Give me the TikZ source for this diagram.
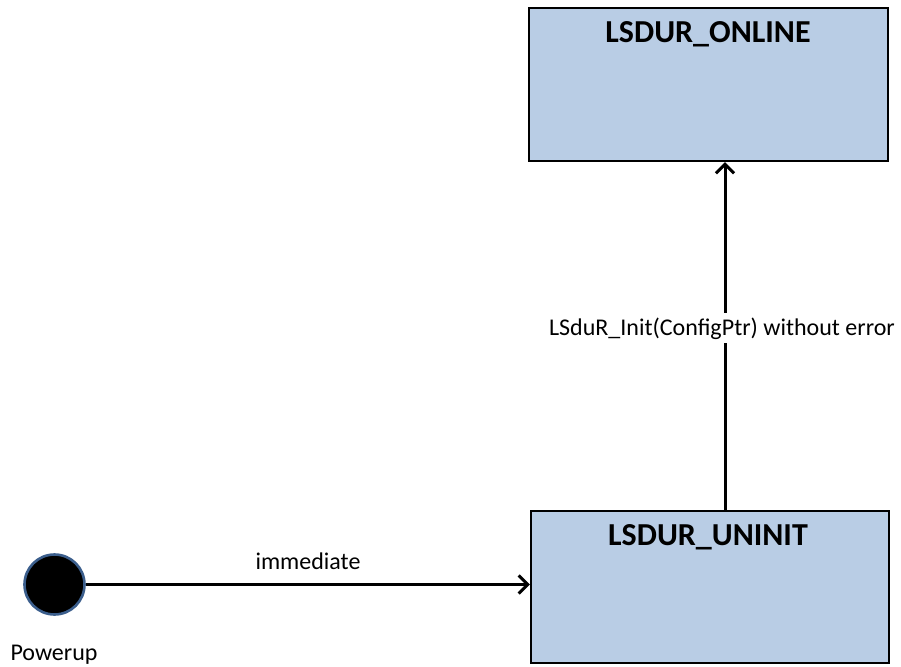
\documentclass[tikz,border=0pt]{standalone}
\usepackage{fontspec}
\setmainfont{Carlito}
\usetikzlibrary{arrows.meta}
\definecolor{statefill}{HTML}{B9CDE5}
\definecolor{initedge}{HTML}{3B5E8C}
\tikzset{
  statebox/.style={draw=black, fill=statefill, line width=2.4pt, rectangle,
    inner sep=0pt},
  statetitle/.style={font=\fontsize{32}{36}\selectfont\bfseries, anchor=base,
    inner sep=0pt},
  lbl/.style={font=\fontsize{24}{28}\selectfont, anchor=base, inner sep=0pt},
  trans/.style={line width=3pt, -{Straight Barb[length=9pt,width=18pt,line width=3pt]}},
  initial/.style={circle, fill=black, draw=initedge, line width=2.6pt,
    minimum size=60pt, inner sep=0pt}
}
\begin{document}
\begin{tikzpicture}[x=1pt, y=-1pt]
  \useasboundingbox (0,0) rectangle (901,666);

  % states
  \node[statebox, minimum width=359pt, minimum height=153pt] (online) at (708.5,84.5) {};
  \node[statetitle] (onlinetitle) at (708,43) {LSDUR\_ONLINE};
  \node[statebox, minimum width=358pt, minimum height=152pt] (uninit) at (710,587) {};
  \node[statetitle] (uninittitle) at (708,545) {LSDUR\_UNINIT};

  % initial pseudo-state
  \node[initial] (start) at (54.5,584.5) {};
  \node[lbl] (powerup) at (54,660) {Powerup};

  % transitions
  \draw[trans] (start.east) -- (start.east -| uninit.west);
  \node[lbl] (immlbl) at (308,569) {immediate};

  \coordinate (upfrom) at ([xshift=15pt]uninit.north);
  \coordinate (upto) at ([xshift=16.5pt]online.south);
  \draw[trans] (upfrom) -- (upto);
  \node[lbl, fill=white, inner xsep=2pt, inner ysep=4pt] (initlbl) at (722,335)
    {LSduR\_Init(ConfigPtr) without error};
\end{tikzpicture}
\end{document}
